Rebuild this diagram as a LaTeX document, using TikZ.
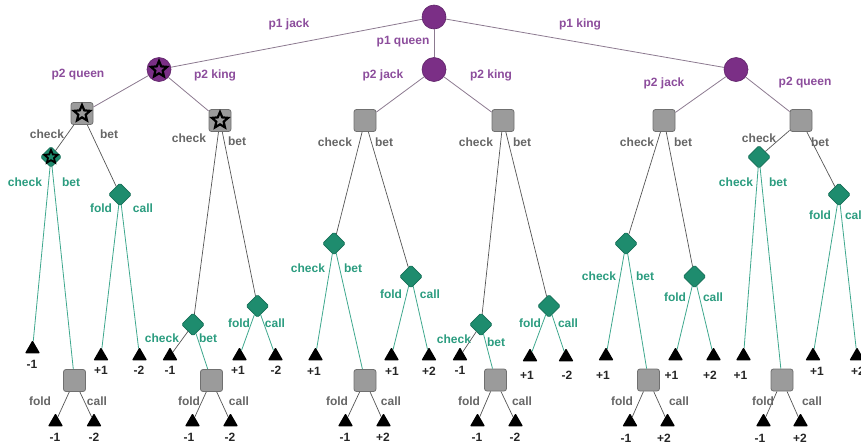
\documentclass[tikz,border=0pt]{standalone}
\usepackage{fontspec}
\setmainfont{Liberation Sans}
\usetikzlibrary{shapes.geometric}
\definecolor{purpleC}{HTML}{7B2F86}
\definecolor{purpleD}{HTML}{5E2268}
\definecolor{purpleT}{HTML}{8C4D9C}
\definecolor{lineP}{HTML}{8C7A90}
\definecolor{grayF}{HTML}{9B9B9B}
\definecolor{grayD}{HTML}{707070}
\definecolor{grayT}{HTML}{666666}
\definecolor{lineG}{HTML}{555555}
\definecolor{greenF}{HTML}{1E8C6E}
\definecolor{greenD}{HTML}{166E57}
\definecolor{greenT}{HTML}{2B9C7F}
\definecolor{lineGr}{HTML}{3FA88E}
\begin{document}
\begin{tikzpicture}[x=1pt,y=-1pt,
 chance/.style={circle,fill=purpleC,draw=purpleD,line width=0.6pt,minimum size=24pt,inner sep=0pt},
 pone/.style={rectangle,rounded corners=2.5pt,fill=grayF,draw=grayD,line width=0.8pt,minimum size=22pt,inner sep=0pt},
 ptwo/.style={diamond,rounded corners=1.5pt,fill=greenF,draw=greenD,line width=0.6pt,minimum size=23pt,inner sep=0pt},
 term/.style={regular polygon,regular polygon sides=3,fill=black,minimum size=17.5pt,inner sep=0pt,rounded corners=1pt},
 starmark/.style={star,star points=5,star point ratio=2.2,draw=black,line width=2.2pt,minimum size=17pt,inner sep=0pt},
 lab/.style={font=\bfseries\fontsize{12}{14}\selectfont,inner sep=0pt},
 plab/.style={lab,text=purpleT},
 glab/.style={lab,text=grayT},
 tlab/.style={lab,text=greenT},
 vlab/.style={lab,text=black!85},
 pline/.style={draw=lineP,line width=0.8pt},
 sline/.style={draw=lineG,line width=0.7pt},
 dline/.style={draw=lineGr,line width=0.8pt}]
\useasboundingbox (0,0) rectangle (861,445);
\clip (0,0) rectangle (861,445);
% chance nodes
\node[chance] (r) at (434,17) {};
\node[chance] (c1) at (159,69.5) {};
\node[chance] (c2) at (434,69.5) {};
\node[chance] (c3) at (736,69.5) {};
% player 1 squares
\node[pone] (s1) at (82,113.5) {};
\node[pone] (s2) at (220,120.5) {};
\node[pone] (s3) at (365,120.5) {};
\node[pone] (s4) at (503,120.5) {};
\node[pone] (s5) at (664,120.5) {};
\node[pone] (s6) at (801,120.5) {};
% player 2 diamonds
\node[ptwo,minimum size=21pt] (d1) at (51,157) {};
\node[ptwo] (d2) at (120,194.5) {};
\node[ptwo] (d3) at (193,324.5) {};
\node[ptwo] (d4) at (257.5,306) {};
\node[ptwo] (d5) at (334,243.5) {};
\node[ptwo] (d6) at (411,276.5) {};
\node[ptwo] (d7) at (481,324.5) {};
\node[ptwo] (d8) at (549,306) {};
\node[ptwo] (d9) at (626,243.5) {};
\node[ptwo] (d10) at (694.5,276.5) {};
\node[ptwo] (d11) at (759,157) {};
\node[ptwo] (d12) at (839,194.5) {};
% player 1 second decision squares
\node[pone] (b1) at (74.5,380.5) {};
\node[pone] (b2) at (211.5,380.5) {};
\node[pone] (b3) at (365,380.5) {};
\node[pone] (b4) at (495.5,380) {};
\node[pone] (b5) at (648.5,380) {};
\node[pone] (b6) at (782,380) {};
% stars
\node[starmark] (st1) at (c1) {};
\node[starmark] (st2) at (s1) {};
\node[starmark] (st3) at (s2) {};
\node[starmark,minimum size=14pt,line width=1.8pt] (st4) at (d1) {};
% terminals
\node[term] (t1) at (32.5,349) {};
\node[term] (t2) at (55.5,422) {};
\node[term] (t3) at (94,422) {};
\node[term] (t4) at (101,356) {};
\node[term] (t5) at (139.5,356) {};
\node[term] (t6) at (170,356) {};
\node[term] (t7) at (192.5,422) {};
\node[term] (t8) at (230.5,422) {};
\node[term] (t9) at (239.5,356) {};
\node[term] (t10) at (275.5,356) {};
\node[term] (t11) at (315.5,356) {};
\node[term] (t12) at (345.5,422) {};
\node[term] (t13) at (383.5,422) {};
\node[term] (t14) at (391.5,356) {};
\node[term] (t15) at (429,356) {};
\node[term] (t16) at (460,356) {};
\node[term] (t17) at (477.5,422) {};
\node[term] (t18) at (515.5,422) {};
\node[term] (t19) at (530,357) {};
\node[term] (t20) at (566,357) {};
\node[term] (t21) at (606,356) {};
\node[term] (t22) at (630,422) {};
\node[term] (t23) at (667.5,422) {};
\node[term] (t24) at (675.5,356) {};
\node[term] (t25) at (713.5,356) {};
\node[term] (t26) at (743.5,356) {};
\node[term] (t27) at (763.5,422) {};
\node[term] (t28) at (800.5,422) {};
\node[term] (t29) at (813,356) {};
\node[term] (t30) at (857,356) {};
% edges: chance
\draw[pline] (r) -- (c1);
\draw[pline] (r) -- (c2);
\draw[pline] (r) -- (c3);
\draw[pline] (c1) -- (s1);
\draw[pline] (c1) -- (s2);
\draw[pline] (c2) -- (s3);
\draw[pline] (c2) -- (s4);
\draw[pline] (c3) -- (s5);
\draw[pline] (c3) -- (s6);
% edges: player 1
\draw[sline] (s1) -- (d1);
\draw[sline] (s1) -- (d2);
\draw[sline] (s2) -- (d3);
\draw[sline] (s2) -- (d4);
\draw[sline] (s3) -- (d5);
\draw[sline] (s3) -- (d6);
\draw[sline] (s4) -- (d7);
\draw[sline] (s4) -- (d8);
\draw[sline] (s5) -- (d9);
\draw[sline] (s5) -- (d10);
\draw[sline] (s6) -- (d11);
\draw[sline] (s6) -- (d12);
\draw[sline] (b1) -- (t2);
\draw[sline] (b1) -- (t3);
\draw[sline] (b2) -- (t7);
\draw[sline] (b2) -- (t8);
\draw[sline] (b3) -- (t12);
\draw[sline] (b3) -- (t13);
\draw[sline] (b4) -- (t17);
\draw[sline] (b4) -- (t18);
\draw[sline] (b5) -- (t22);
\draw[sline] (b5) -- (t23);
\draw[sline] (b6) -- (t27);
\draw[sline] (b6) -- (t28);
% edges: player 2
\draw[dline] (d1) -- (t1);
\draw[dline] (d1) -- (b1);
\draw[dline] (d2) -- (t4);
\draw[dline] (d2) -- (t5);
\draw[sline] (d3) -- (t6);
\draw[dline] (d3) -- (b2);
\draw[dline] (d4) -- (t9);
\draw[dline] (d4) -- (t10);
\draw[dline] (d5) -- (t11);
\draw[dline] (d5) -- (b3);
\draw[dline] (d6) -- (t14);
\draw[dline] (d6) -- (t15);
\draw[sline] (d7) -- (t16);
\draw[dline] (d7) -- (b4);
\draw[dline] (d8) -- (t19);
\draw[dline] (d8) -- (t20);
\draw[dline] (d9) -- (t21);
\draw[dline] (d9) -- (b5);
\draw[dline] (d10) -- (t24);
\draw[dline] (d10) -- (t25);
\draw[dline] (d11) -- (t26);
\draw[dline] (d11) -- (b6);
\draw[dline] (d12) -- (t29);
\draw[dline] (d12) -- (t30);
% chance labels
\node[plab] (l1) at (289,24) {p1 jack};
\node[plab] (l2) at (403,42) {p1 queen};
\node[plab] (l3) at (580,24) {p1 king};
\node[plab] (l4) at (78,75) {p2 queen};
\node[plab] (l5) at (215,75) {p2 king};
\node[plab] (l6) at (383,75) {p2 jack};
\node[plab] (l7) at (491,75) {p2 king};
\node[plab] (l8) at (664,83) {p2 jack};
\node[plab] (l9) at (805,83) {p2 queen};
% player 1 labels
\node[glab] (g1) at (47,134) {check};
\node[glab] (g2) at (109,134) {bet};
\node[glab] (g3) at (189,138) {check};
\node[glab] (g4) at (237,141) {bet};
\node[glab] (g5) at (335,142) {check};
\node[glab] (g6) at (384,142) {bet};
\node[glab] (g7) at (476,142) {check};
\node[glab] (g8) at (522,142) {bet};
\node[glab] (g9) at (637,142) {check};
\node[glab] (g10) at (683,142) {bet};
\node[glab] (g11) at (759,138) {check};
\node[glab] (g12) at (820,142) {bet};
\node[glab] (g13) at (40,401) {fold};
\node[glab] (g14) at (97,401) {call};
\node[glab] (g15) at (189,401) {fold};
\node[glab] (g16) at (239,401) {call};
\node[glab] (g17) at (337,401) {fold};
\node[glab] (g18) at (391,401) {call};
\node[glab] (g19) at (469,401) {fold};
\node[glab] (g20) at (522,401) {call};
\node[glab] (g21) at (622,401) {fold};
\node[glab] (g22) at (679,401) {call};
\node[glab] (g23) at (763,401) {fold};
\node[glab] (g24) at (812,401) {call};
% player 2 labels
\node[tlab] (e1) at (25,182) {check};
\node[tlab] (e2) at (71,182) {bet};
\node[tlab] (e3) at (101,208) {fold};
\node[tlab] (e4) at (143,208) {call};
\node[tlab] (e5) at (162,338) {check};
\node[tlab] (e6) at (208,338) {bet};
\node[tlab] (e7) at (239,323) {fold};
\node[tlab] (e8) at (275,323) {call};
\node[tlab] (e9) at (308,268) {check};
\node[tlab] (e10) at (353,268) {bet};
\node[tlab] (e11) at (391,294) {fold};
\node[tlab] (e12) at (430,294) {call};
\node[tlab] (e13) at (454,339) {check};
\node[tlab] (e14) at (496,342) {bet};
\node[tlab] (e15) at (530,323) {fold};
\node[tlab] (e16) at (568,323) {call};
\node[tlab] (e17) at (599,276) {check};
\node[tlab] (e18) at (645,276) {bet};
\node[tlab] (e19) at (675,297) {fold};
\node[tlab] (e20) at (713,297) {call};
\node[tlab] (e21) at (736,182) {check};
\node[tlab] (e22) at (778,182) {bet};
\node[tlab] (e23) at (820,215) {fold};
\node[tlab] (e24) at (855,215) {call};
% payoffs
\node[vlab] (v1) at (32,364) {-1};
\node[vlab] (v2) at (55,437) {-1};
\node[vlab] (v3) at (94,437) {-2};
\node[vlab] (v4) at (101,370) {+1};
\node[vlab] (v5) at (139,370) {-2};
\node[vlab] (v6) at (170,370) {-1};
\node[vlab] (v7) at (189,437) {-1};
\node[vlab] (v8) at (230,437) {-2};
\node[vlab] (v9) at (238,370) {+1};
\node[vlab] (v10) at (276,370) {-2};
\node[vlab] (v11) at (314,371) {+1};
\node[vlab] (v12) at (345,437) {-1};
\node[vlab] (v13) at (383,437) {+2};
\node[vlab] (v14) at (392,371) {+1};
\node[vlab] (v15) at (429,371) {+2};
\node[vlab] (v16) at (460,370) {-1};
\node[vlab] (v17) at (477,437) {-1};
\node[vlab] (v18) at (515,437) {-2};
\node[vlab] (v19) at (527,375) {+1};
\node[vlab] (v20) at (567,375) {-2};
\node[vlab] (v21) at (603,375) {+1};
\node[vlab] (v22) at (626,438) {-1};
\node[vlab] (v23) at (664,438) {+2};
\node[vlab] (v24) at (671.5,375) {+1};
\node[vlab] (v25) at (710,375) {+2};
\node[vlab] (v26) at (740.5,375) {+1};
\node[vlab] (v27) at (760,438) {-1};
\node[vlab] (v28) at (800,438) {+2};
\node[vlab] (v29) at (817,371) {+1};
\node[vlab] (v30) at (858,371) {+2};
\end{tikzpicture}
\end{document}
